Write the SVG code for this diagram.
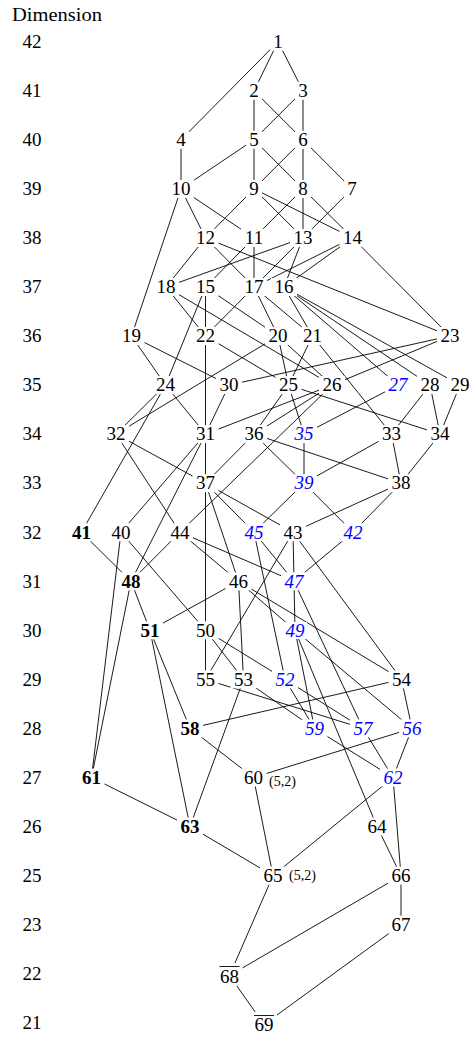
<svg xmlns="http://www.w3.org/2000/svg" width="471" height="1038" viewBox="0 0 471 1038">
<style>
.e line{stroke:#000;stroke-width:0.9}
.bg{fill:#fff}
text{font-family:"Liberation Serif","DejaVu Serif",serif;font-size:19px;text-anchor:middle;fill:#000}
.b{font-weight:bold}
.i{font-style:italic;fill:#0000ff}
.s{font-size:14px;text-anchor:start}
.ol{stroke:#000;stroke-width:0.9}
</style>
<rect width="471" height="1038" fill="#fff"/>
<g id="dimension-axis">
<text x="12" y="21" style="text-anchor:start" textLength="90" lengthAdjust="spacingAndGlyphs">Dimension</text>
<text x="32" y="48">42</text>
<text x="32" y="97.05">41</text>
<text x="32" y="146.1">40</text>
<text x="32" y="195.15">39</text>
<text x="32" y="244.2">38</text>
<text x="32" y="293.25">37</text>
<text x="32" y="342.3">36</text>
<text x="32" y="391.35">35</text>
<text x="32" y="440.4">34</text>
<text x="32" y="489.45">33</text>
<text x="32" y="538.5">32</text>
<text x="32" y="587.55">31</text>
<text x="32" y="636.6">30</text>
<text x="32" y="685.65">29</text>
<text x="32" y="734.7">28</text>
<text x="32" y="783.75">27</text>
<text x="32" y="832.8">26</text>
<text x="32" y="881.85">25</text>
<text x="32" y="930.9">23</text>
<text x="32" y="979.95">22</text>
<text x="32" y="1029">21</text>
</g>
<g id="connectors" class="e">
<line x1="278" y1="41.7" x2="254" y2="90.8"/>
<line x1="278" y1="41.7" x2="303" y2="90.8"/>
<line x1="278" y1="41.7" x2="181" y2="139.8"/>
<line x1="254" y1="90.8" x2="254" y2="139.8"/>
<line x1="254" y1="90.8" x2="303" y2="139.8"/>
<line x1="303" y1="90.8" x2="254" y2="139.8"/>
<line x1="303" y1="90.8" x2="303" y2="139.8"/>
<line x1="181" y1="139.8" x2="181" y2="188.9"/>
<line x1="254" y1="139.8" x2="181" y2="188.9"/>
<line x1="254" y1="139.8" x2="254" y2="188.9"/>
<line x1="254" y1="139.8" x2="303" y2="188.9"/>
<line x1="303" y1="139.8" x2="254" y2="188.9"/>
<line x1="303" y1="139.8" x2="303" y2="188.9"/>
<line x1="303" y1="139.8" x2="352" y2="188.9"/>
<line x1="181" y1="188.9" x2="131.5" y2="336"/>
<line x1="181" y1="188.9" x2="205.5" y2="237.9"/>
<line x1="181" y1="188.9" x2="254" y2="237.9"/>
<line x1="254" y1="188.9" x2="205.5" y2="237.9"/>
<line x1="254" y1="188.9" x2="303" y2="237.9"/>
<line x1="254" y1="188.9" x2="352.5" y2="237.9"/>
<line x1="303" y1="188.9" x2="254" y2="237.9"/>
<line x1="303" y1="188.9" x2="303" y2="237.9"/>
<line x1="303" y1="188.9" x2="352.5" y2="237.9"/>
<line x1="352" y1="188.9" x2="303" y2="237.9"/>
<line x1="205.5" y1="237.9" x2="166" y2="287"/>
<line x1="205.5" y1="237.9" x2="254" y2="287"/>
<line x1="205.5" y1="237.9" x2="450" y2="336"/>
<line x1="254" y1="237.9" x2="205.5" y2="287"/>
<line x1="254" y1="237.9" x2="254" y2="287"/>
<line x1="303" y1="237.9" x2="166" y2="287"/>
<line x1="303" y1="237.9" x2="254" y2="287"/>
<line x1="303" y1="237.9" x2="284" y2="287"/>
<line x1="352.5" y1="237.9" x2="254" y2="287"/>
<line x1="352.5" y1="237.9" x2="284" y2="287"/>
<line x1="352.5" y1="237.9" x2="450" y2="336"/>
<line x1="166" y1="287" x2="205.5" y2="336"/>
<line x1="166" y1="287" x2="332" y2="385.1"/>
<line x1="205.5" y1="287" x2="205.5" y2="336"/>
<line x1="205.5" y1="287" x2="165.5" y2="385.1"/>
<line x1="205.5" y1="287" x2="278" y2="336"/>
<line x1="254" y1="287" x2="205.5" y2="336"/>
<line x1="254" y1="287" x2="278" y2="336"/>
<line x1="254" y1="287" x2="312.5" y2="336"/>
<line x1="284" y1="287" x2="312.5" y2="336"/>
<line x1="284" y1="287" x2="398" y2="385.1"/>
<line x1="284" y1="287" x2="430" y2="385.1"/>
<line x1="284" y1="287" x2="460" y2="385.1"/>
<line x1="131.5" y1="336" x2="165.5" y2="385.1"/>
<line x1="131.5" y1="336" x2="229" y2="385.1"/>
<line x1="205.5" y1="336" x2="205.5" y2="434.1"/>
<line x1="205.5" y1="336" x2="288.5" y2="385.1"/>
<line x1="278" y1="336" x2="116" y2="434.1"/>
<line x1="278" y1="336" x2="288.5" y2="385.1"/>
<line x1="278" y1="336" x2="332" y2="385.1"/>
<line x1="312.5" y1="336" x2="288.5" y2="385.1"/>
<line x1="312.5" y1="336" x2="391.5" y2="434.1"/>
<line x1="450" y1="336" x2="229" y2="385.1"/>
<line x1="450" y1="336" x2="332" y2="385.1"/>
<line x1="165.5" y1="385.1" x2="116" y2="434.1"/>
<line x1="165.5" y1="385.1" x2="81.5" y2="532.2"/>
<line x1="165.5" y1="385.1" x2="205.5" y2="434.1"/>
<line x1="229" y1="385.1" x2="205.5" y2="434.1"/>
<line x1="288.5" y1="385.1" x2="254" y2="434.1"/>
<line x1="288.5" y1="385.1" x2="304" y2="434.1"/>
<line x1="288.5" y1="385.1" x2="440" y2="434.1"/>
<line x1="332" y1="385.1" x2="205.5" y2="434.1"/>
<line x1="332" y1="385.1" x2="254" y2="434.1"/>
<line x1="332" y1="385.1" x2="180" y2="532.2"/>
<line x1="398" y1="385.1" x2="304" y2="434.1"/>
<line x1="430" y1="385.1" x2="391.5" y2="434.1"/>
<line x1="430" y1="385.1" x2="440" y2="434.1"/>
<line x1="460" y1="385.1" x2="440" y2="434.1"/>
<line x1="116" y1="434.1" x2="205.5" y2="483.2"/>
<line x1="116" y1="434.1" x2="180" y2="532.2"/>
<line x1="205.5" y1="434.1" x2="205.5" y2="483.2"/>
<line x1="205.5" y1="434.1" x2="121" y2="532.2"/>
<line x1="205.5" y1="434.1" x2="131" y2="581.3"/>
<line x1="254" y1="434.1" x2="205.5" y2="483.2"/>
<line x1="254" y1="434.1" x2="304" y2="483.2"/>
<line x1="254" y1="434.1" x2="401" y2="483.2"/>
<line x1="304" y1="434.1" x2="304" y2="483.2"/>
<line x1="391.5" y1="434.1" x2="304" y2="483.2"/>
<line x1="391.5" y1="434.1" x2="401" y2="483.2"/>
<line x1="440" y1="434.1" x2="401" y2="483.2"/>
<line x1="205.5" y1="483.2" x2="254" y2="532.2"/>
<line x1="205.5" y1="483.2" x2="293" y2="532.2"/>
<line x1="205.5" y1="483.2" x2="238.5" y2="581.3"/>
<line x1="205.5" y1="483.2" x2="205.5" y2="630.3"/>
<line x1="304" y1="483.2" x2="254" y2="532.2"/>
<line x1="304" y1="483.2" x2="353" y2="532.2"/>
<line x1="401" y1="483.2" x2="293" y2="532.2"/>
<line x1="401" y1="483.2" x2="353" y2="532.2"/>
<line x1="81.5" y1="532.2" x2="131" y2="581.3"/>
<line x1="121" y1="532.2" x2="91.5" y2="777.5"/>
<line x1="121" y1="532.2" x2="205.5" y2="630.3"/>
<line x1="180" y1="532.2" x2="131" y2="581.3"/>
<line x1="180" y1="532.2" x2="238.5" y2="581.3"/>
<line x1="180" y1="532.2" x2="294" y2="581.3"/>
<line x1="254" y1="532.2" x2="294" y2="581.3"/>
<line x1="254" y1="532.2" x2="285" y2="679.4"/>
<line x1="293" y1="532.2" x2="294" y2="581.3"/>
<line x1="293" y1="532.2" x2="205.5" y2="679.4"/>
<line x1="293" y1="532.2" x2="401.5" y2="679.4"/>
<line x1="353" y1="532.2" x2="294" y2="581.3"/>
<line x1="131" y1="581.3" x2="150" y2="630.3"/>
<line x1="131" y1="581.3" x2="91.5" y2="777.5"/>
<line x1="238.5" y1="581.3" x2="150" y2="630.3"/>
<line x1="238.5" y1="581.3" x2="243.5" y2="679.4"/>
<line x1="238.5" y1="581.3" x2="295" y2="630.3"/>
<line x1="238.5" y1="581.3" x2="401.5" y2="679.4"/>
<line x1="294" y1="581.3" x2="295" y2="630.3"/>
<line x1="294" y1="581.3" x2="363" y2="728.4"/>
<line x1="150" y1="630.3" x2="190" y2="728.4"/>
<line x1="150" y1="630.3" x2="190" y2="826.5"/>
<line x1="205.5" y1="630.3" x2="205.5" y2="679.4"/>
<line x1="205.5" y1="630.3" x2="243.5" y2="679.4"/>
<line x1="205.5" y1="630.3" x2="285" y2="679.4"/>
<line x1="295" y1="630.3" x2="314.5" y2="728.4"/>
<line x1="295" y1="630.3" x2="377" y2="826.5"/>
<line x1="295" y1="630.3" x2="412" y2="728.4"/>
<line x1="205.5" y1="679.4" x2="363" y2="728.4"/>
<line x1="243.5" y1="679.4" x2="314.5" y2="728.4"/>
<line x1="243.5" y1="679.4" x2="190" y2="826.5"/>
<line x1="285" y1="679.4" x2="314.5" y2="728.4"/>
<line x1="285" y1="679.4" x2="363" y2="728.4"/>
<line x1="401.5" y1="679.4" x2="190" y2="728.4"/>
<line x1="401.5" y1="679.4" x2="412" y2="728.4"/>
<line x1="190" y1="728.4" x2="253.5" y2="777.5"/>
<line x1="314.5" y1="728.4" x2="393" y2="777.5"/>
<line x1="363" y1="728.4" x2="393" y2="777.5"/>
<line x1="412" y1="728.4" x2="253.5" y2="777.5"/>
<line x1="412" y1="728.4" x2="393" y2="777.5"/>
<line x1="91.5" y1="777.5" x2="190" y2="826.5"/>
<line x1="253.5" y1="777.5" x2="273" y2="875.6"/>
<line x1="393" y1="777.5" x2="273" y2="875.6"/>
<line x1="393" y1="777.5" x2="401" y2="875.6"/>
<line x1="190" y1="826.5" x2="273" y2="875.6"/>
<line x1="377" y1="826.5" x2="401" y2="875.6"/>
<line x1="273" y1="875.6" x2="229.5" y2="975.5"/>
<line x1="401" y1="875.6" x2="229.5" y2="975.5"/>
<line x1="401" y1="875.6" x2="401" y2="924.6"/>
<line x1="401" y1="924.6" x2="264" y2="1024.5"/>
<line x1="229.5" y1="975.5" x2="264" y2="1024.5"/>
</g>
<g id="n1"><rect class="bg" x="270" y="32.7" width="16" height="18"/><text x="278" y="48">1</text></g>
<g id="n2"><rect class="bg" x="246" y="81.8" width="16" height="18"/><text x="254" y="97.05">2</text></g>
<g id="n3"><rect class="bg" x="295" y="81.8" width="16" height="18"/><text x="303" y="97.05">3</text></g>
<g id="n4"><rect class="bg" x="173" y="130.8" width="16" height="18"/><text x="181" y="146.1">4</text></g>
<g id="n5"><rect class="bg" x="246" y="130.8" width="16" height="18"/><text x="254" y="146.1">5</text></g>
<g id="n6"><rect class="bg" x="295" y="130.8" width="16" height="18"/><text x="303" y="146.1">6</text></g>
<g id="n10"><rect class="bg" x="168" y="179.9" width="26" height="18"/><text x="181" y="195.15">10</text></g>
<g id="n9"><rect class="bg" x="246" y="179.9" width="16" height="18"/><text x="254" y="195.15">9</text></g>
<g id="n8"><rect class="bg" x="295" y="179.9" width="16" height="18"/><text x="303" y="195.15">8</text></g>
<g id="n7"><rect class="bg" x="344" y="179.9" width="16" height="18"/><text x="352" y="195.15">7</text></g>
<g id="n12"><rect class="bg" x="192.5" y="228.9" width="26" height="18"/><text x="205.5" y="244.2">12</text></g>
<g id="n11"><rect class="bg" x="241" y="228.9" width="26" height="18"/><text x="254" y="244.2">11</text></g>
<g id="n13"><rect class="bg" x="290" y="228.9" width="26" height="18"/><text x="303" y="244.2">13</text></g>
<g id="n14"><rect class="bg" x="339.5" y="228.9" width="26" height="18"/><text x="352.5" y="244.2">14</text></g>
<g id="n18"><rect class="bg" x="153" y="278" width="26" height="18"/><text x="166" y="293.25">18</text></g>
<g id="n15"><rect class="bg" x="192.5" y="278" width="26" height="18"/><text x="205.5" y="293.25">15</text></g>
<g id="n17"><rect class="bg" x="241" y="278" width="26" height="18"/><text x="254" y="293.25">17</text></g>
<g id="n16"><rect class="bg" x="271" y="278" width="26" height="18"/><text x="284" y="293.25">16</text></g>
<g id="n19"><rect class="bg" x="118.5" y="327" width="26" height="18"/><text x="131.5" y="342.3">19</text></g>
<g id="n22"><rect class="bg" x="192.5" y="327" width="26" height="18"/><text x="205.5" y="342.3">22</text></g>
<g id="n20"><rect class="bg" x="265" y="327" width="26" height="18"/><text x="278" y="342.3">20</text></g>
<g id="n21"><rect class="bg" x="299.5" y="327" width="26" height="18"/><text x="312.5" y="342.3">21</text></g>
<g id="n23"><rect class="bg" x="437" y="327" width="26" height="18"/><text x="450" y="342.3">23</text></g>
<g id="n24"><rect class="bg" x="152.5" y="376.1" width="26" height="18"/><text x="165.5" y="391.35">24</text></g>
<g id="n30"><rect class="bg" x="216" y="376.1" width="26" height="18"/><text x="229" y="391.35">30</text></g>
<g id="n25"><rect class="bg" x="275.5" y="376.1" width="26" height="18"/><text x="288.5" y="391.35">25</text></g>
<g id="n26"><rect class="bg" x="319" y="376.1" width="26" height="18"/><text x="332" y="391.35">26</text></g>
<g id="n27"><rect class="bg" x="385" y="376.1" width="26" height="18"/><text class="i" x="398" y="391.35">27</text></g>
<g id="n28"><rect class="bg" x="417" y="376.1" width="26" height="18"/><text x="430" y="391.35">28</text></g>
<g id="n29"><rect class="bg" x="447" y="376.1" width="24" height="18"/><text x="460" y="391.35">29</text></g>
<g id="n32"><rect class="bg" x="103" y="425.1" width="26" height="18"/><text x="116" y="440.4">32</text></g>
<g id="n31"><rect class="bg" x="192.5" y="425.1" width="26" height="18"/><text x="205.5" y="440.4">31</text></g>
<g id="n36"><rect class="bg" x="241" y="425.1" width="26" height="18"/><text x="254" y="440.4">36</text></g>
<g id="n35"><rect class="bg" x="291" y="425.1" width="26" height="18"/><text class="i" x="304" y="440.4">35</text></g>
<g id="n33"><rect class="bg" x="378.5" y="425.1" width="26" height="18"/><text x="391.5" y="440.4">33</text></g>
<g id="n34"><rect class="bg" x="427" y="425.1" width="26" height="18"/><text x="440" y="440.4">34</text></g>
<g id="n37"><rect class="bg" x="192.5" y="474.2" width="26" height="18"/><text x="205.5" y="489.45">37</text></g>
<g id="n39"><rect class="bg" x="291" y="474.2" width="26" height="18"/><text class="i" x="304" y="489.45">39</text></g>
<g id="n38"><rect class="bg" x="388" y="474.2" width="26" height="18"/><text x="401" y="489.45">38</text></g>
<g id="n41"><rect class="bg" x="68.5" y="523.2" width="26" height="18"/><text class="b" x="81.5" y="538.5">41</text></g>
<g id="n40"><rect class="bg" x="108" y="523.2" width="26" height="18"/><text x="121" y="538.5">40</text></g>
<g id="n44"><rect class="bg" x="167" y="523.2" width="26" height="18"/><text x="180" y="538.5">44</text></g>
<g id="n45"><rect class="bg" x="241" y="523.2" width="26" height="18"/><text class="i" x="254" y="538.5">45</text></g>
<g id="n43"><rect class="bg" x="280" y="523.2" width="26" height="18"/><text x="293" y="538.5">43</text></g>
<g id="n42"><rect class="bg" x="340" y="523.2" width="26" height="18"/><text class="i" x="353" y="538.5">42</text></g>
<g id="n48"><rect class="bg" x="118" y="572.3" width="26" height="18"/><text class="b" x="131" y="587.55">48</text></g>
<g id="n46"><rect class="bg" x="225.5" y="572.3" width="26" height="18"/><text x="238.5" y="587.55">46</text></g>
<g id="n47"><rect class="bg" x="281" y="572.3" width="26" height="18"/><text class="i" x="294" y="587.55">47</text></g>
<g id="n51"><rect class="bg" x="137" y="621.3" width="26" height="18"/><text class="b" x="150" y="636.6">51</text></g>
<g id="n50"><rect class="bg" x="192.5" y="621.3" width="26" height="18"/><text x="205.5" y="636.6">50</text></g>
<g id="n49"><rect class="bg" x="282" y="622" width="25" height="17"/><text class="i" x="295" y="636.6">49</text></g>
<g id="n55"><rect class="bg" x="192.5" y="670.4" width="26" height="18"/><text x="205.5" y="685.65">55</text></g>
<g id="n53"><rect class="bg" x="230.5" y="670.4" width="26" height="18"/><text x="243.5" y="685.65">53</text></g>
<g id="n52"><rect class="bg" x="272" y="670.4" width="26" height="18"/><text class="i" x="285" y="685.65">52</text></g>
<g id="n54"><rect class="bg" x="388.5" y="670.4" width="26" height="18"/><text x="401.5" y="685.65">54</text></g>
<g id="n58"><rect class="bg" x="177" y="719.4" width="26" height="18"/><text class="b" x="190" y="734.7">58</text></g>
<g id="n59"><rect class="bg" x="301.5" y="719.4" width="26" height="18"/><text class="i" x="314.5" y="734.7">59</text></g>
<g id="n57"><rect class="bg" x="350" y="719.4" width="26" height="18"/><text class="i" x="363" y="734.7">57</text></g>
<g id="n56"><rect class="bg" x="399" y="719.4" width="26" height="18"/><text class="i" x="412" y="734.7">56</text></g>
<g id="n61"><rect class="bg" x="78.5" y="768.5" width="26" height="18"/><text class="b" x="91.5" y="783.75">61</text></g>
<g id="n60"><rect class="bg" x="240.5" y="768.5" width="26" height="18"/><text x="253.5" y="783.75">60</text><text class="s" x="269" y="786">(5,2)</text></g>
<g id="n62"><rect class="bg" x="380" y="768.5" width="26" height="18"/><text class="i" x="393" y="783.75">62</text></g>
<g id="n63"><rect class="bg" x="177" y="817.5" width="26" height="18"/><text class="b" x="190" y="832.8">63</text></g>
<g id="n64"><rect class="bg" x="364" y="817.5" width="26" height="18"/><text x="377" y="832.8">64</text></g>
<g id="n65"><rect class="bg" x="260" y="866.6" width="26" height="18"/><text x="273" y="881.85">65</text><text class="s" x="289" y="879.5">(5,2)</text></g>
<g id="n66"><rect class="bg" x="388" y="866.6" width="26" height="18"/><text x="401" y="881.85">66</text></g>
<g id="n67"><rect class="bg" x="388" y="915.6" width="26" height="18"/><text x="401" y="930.9">67</text></g>
<g id="n68"><rect class="bg" x="216.5" y="963" width="26" height="23"/><line class="ol" x1="219.5" y1="966.5" x2="239.5" y2="966.5"/><text x="229.5" y="982.5">68</text></g>
<g id="n69"><rect class="bg" x="251" y="1012" width="26" height="23"/><line class="ol" x1="254" y1="1015.5" x2="274" y2="1015.5"/><text x="264" y="1031">69</text></g>
</svg>
